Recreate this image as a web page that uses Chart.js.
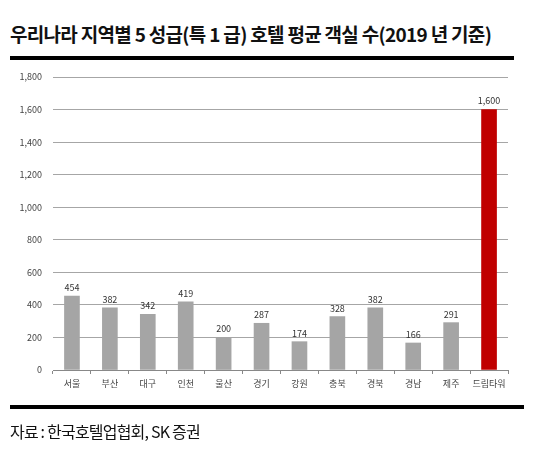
<!DOCTYPE html>
<html>
<head>
<meta charset="utf-8">
<script src="https://cdn.jsdelivr.net/npm/chart.js@4"></script>
<style>
  html, body { margin: 0; padding: 0; background: #fff; }
  body { width: 533px; height: 454px; position: relative; overflow: hidden; font-family: "Noto Sans CJK KR", sans-serif; }
  #titulo { position: absolute; left: 10px; top: 20px; font-size: 19px; font-weight: bold; color: #111; letter-spacing: -0.7px; white-space: nowrap; }
  .linea { position: absolute; height: 4px; background: #000; }
  #fuente { position: absolute; left: 10px; top: 419px; font-size: 16px; color: #111; letter-spacing: -0.8px; white-space: nowrap; }
  #grafico { position: absolute; left: 0; top: 0; }
</style>
</head>
<body>
<div id="titulo">우리나라 지역별 5 성급(특 1 급) 호텔 평균 객실 수(2019 년 기준)</div>
<div class="linea" style="left:10px; top:56px; width:504px;"></div>
<canvas id="grafico" width="533" height="454"></canvas>
<div class="linea" style="left:10px; top:405px; width:514px;"></div>
<div id="fuente">자료 : 한국호텔업협회, SK 증권</div>
<script>
// Datos del gráfico
const regiones = ["서울", "부산", "대구", "인천", "울산", "경기", "강원", "충북", "경북", "경남", "제주", "드림타워"];
const habitaciones = [454, 382, 342, 419, 200, 287, 174, 328, 382, 166, 291, 1600];
const marcasY = [0, 200, 400, 600, 800, 1000, 1200, 1400, 1600, 1800];

// Colores: gris para regiones, rojo para la torre
const colores = regiones.map((r, i) => i === regiones.length - 1 ? "#c00000" : "#a5a5a5");

// Plugin para escribir el valor encima de cada barra
const etiquetasValor = {
    id: "etiquetasValor",
    afterDatasetsDraw(chart) {
        const ctx = chart.ctx;
        const meta = chart.getDatasetMeta(0);
        ctx.save();
        ctx.font = "9px 'Noto Sans CJK KR', sans-serif";
        ctx.fillStyle = "#333";
        ctx.textAlign = "center";
        ctx.textBaseline = "bottom";
        meta.data.forEach((bar, i) => {
            ctx.fillText(habitaciones[i].toLocaleString("en-US"), bar.x, bar.y - 4);
        });
        ctx.restore();
    }
};

new Chart(document.getElementById("grafico"), {
    type: "bar",
    data: {
        labels: regiones,
        datasets: [{
            data: habitaciones,
            backgroundColor: colores,
            barThickness: regiones.map((r, i) => i === regiones.length - 1 ? 17 : 15)
        }]
    },
    options: {
        responsive: false,
        animation: false,
        layout: { padding: { top: 77, right: 25, left: 0, bottom: 0 } },
        plugins: {
            legend: { display: false },
            tooltip: { enabled: false }
        },
        scales: {
            y: {
                min: 0,
                max: 1800,
                afterBuildTicks: s => { s.ticks = marcasY.map(v => ({ value: v })); },
                afterFit: s => { s.width = 53; },
                border: { display: false },
                grid: { color: "#a6a6a6", drawTicks: false },
                ticks: {
                    padding: 11,
                    color: "#444",
                    font: { size: 9, family: "'Noto Sans CJK KR', sans-serif" },
                    callback: v => v.toLocaleString("en-US")
                }
            },
            x: {
                afterFit: s => { s.height = 84; },
                border: { color: "#888" },
                grid: { drawOnChartArea: false, offset: true, tickLength: 4, color: "#888" },
                ticks: {
                    padding: 4,
                    maxRotation: 0,
                    minRotation: 0,
                    autoSkip: false,
                    color: "#444",
                    font: { size: 9, family: "'Noto Sans CJK KR', sans-serif" }
                }
            }
        }
    },
    plugins: [etiquetasValor]
});
</script>
</body>
</html>
